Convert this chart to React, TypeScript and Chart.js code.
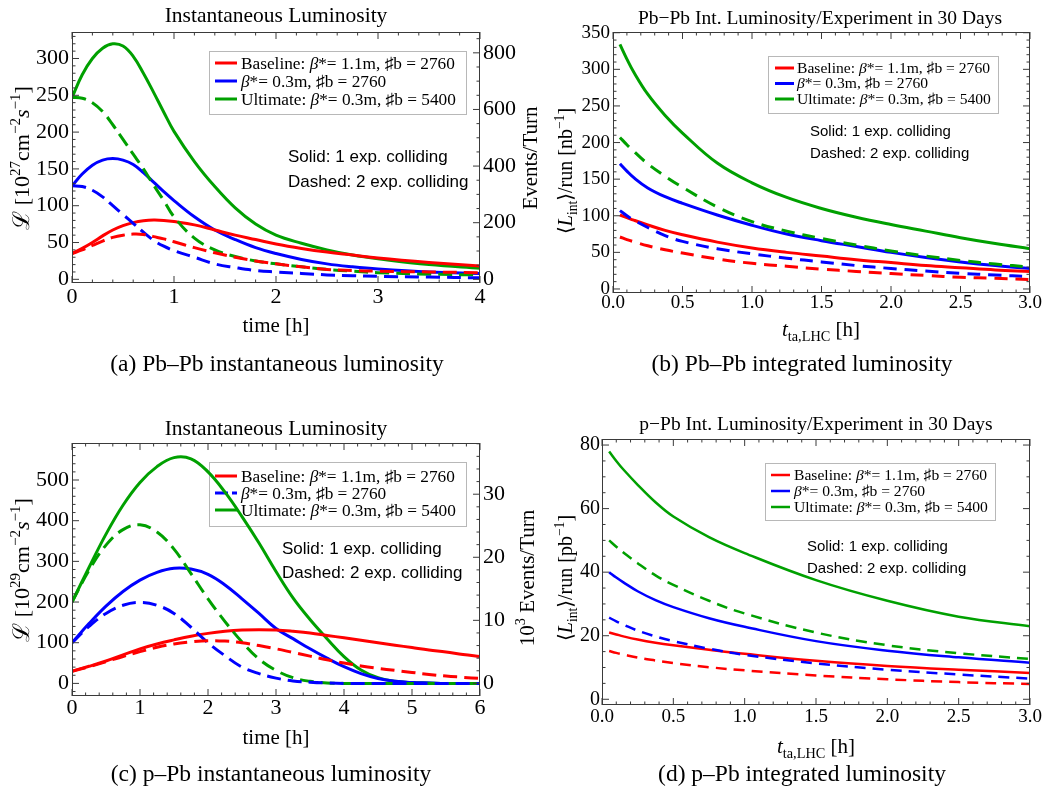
import { useEffect, useRef } from 'react';
import { Chart, registerables } from 'chart.js';

Chart.register(...registerables);

const W = 1048;
const H = 793;
const YW = 40; // fixed width of every vertical axis box
const XH = 30; // fixed height of every horizontal axis box

const SERIF = '"Liberation Serif", "Times New Roman", "DejaVu Serif", serif';
const SANS = '"Liberation Sans", Arial, "DejaVu Sans", sans-serif';
const RED = '#ff0000';
const BLUE = '#0000ff';
const GREEN = '#00a000';
const FRAME = '#3a3a3a';

// ---------- (a) Pb–Pb instantaneous luminosity [10^27 cm^-2 s^-1] vs time [h]
const PBPB_TIME = [0, 0.1, 0.2, 0.3, 0.4, 0.5, 0.6, 0.7, 0.8, 0.9, 1.0, 1.2, 1.4, 1.6, 1.8, 2.0, 2.25, 2.5, 2.75, 3.0, 3.5, 4.0];
const PBPB_BASE_1EXP = [35, 42, 50, 59, 67, 73, 77, 79.5, 80.5, 80, 78.5, 74, 67, 60, 54, 48, 42, 37, 33, 29, 23, 18];
const PBPB_BASE_2EXP = [35, 40, 46, 52, 57, 60, 61.5, 61, 58, 55, 51, 43, 36, 30, 25, 21, 17, 13.5, 12, 11, 10, 9];
const PBPB_B03_1EXP = [127, 143, 155, 162, 164, 162, 156, 145, 132, 119, 107, 85, 67, 54, 43, 35, 27, 21, 17, 14, 10, 8];
const PBPB_B03_2EXP = [127, 126, 121, 112, 100, 88, 76, 64, 53, 45, 39, 30, 21, 16, 12, 10, 8, 6, 5, 4, 3, 2];
const PBPB_ULT_1EXP = [247, 278, 300, 314, 320, 317, 303, 280, 254, 227, 201, 160, 126, 97, 75, 60, 49, 40, 33, 28, 20, 15];
const PBPB_ULT_2EXP = [247, 246, 240, 228, 210, 190, 170, 150, 128, 107, 85, 56, 40, 31, 25, 21, 17, 13.5, 11, 9, 7, 6];
const PBPB_TIME_TICKS = [0, 1, 2, 3, 4];
const PBPB_LUMI_TICKS = [0, 50, 100, 150, 200, 250, 300];
const PBPB_EVENT_TICKS = [0, 200, 400, 600, 800];

// ---------- (b) Pb–Pb integrated luminosity per run [nb^-1] vs turnaround time [h]
const PBPB_TTA = [0.05, 0.1, 0.15, 0.25, 0.375, 0.5, 0.75, 1.0, 1.25, 1.5, 1.75, 2.0, 2.25, 2.5, 2.75, 3.0];
const PBPB_INT_BASE_1EXP = [101, 97.5, 94, 87.5, 80, 74, 64, 56, 50, 45, 40, 36, 32, 29, 26, 24];
const PBPB_INT_BASE_2EXP = [71, 67.5, 64.5, 59, 53.5, 49, 41, 35, 31, 27, 24, 21, 18.5, 16, 14.5, 13];
const PBPB_INT_B03_1EXP = [171, 161, 152, 138, 126, 117, 101, 87, 75, 66, 58, 50, 43, 37, 32, 28];
const PBPB_INT_B03_2EXP = [107, 100, 94, 84, 73, 65, 55, 48, 42, 37, 32, 28, 24.5, 21.5, 19, 17];
const PBPB_INT_ULT_1EXP = [334, 314, 296, 266, 237, 213, 172, 145, 125, 110, 98, 88, 79, 70, 62, 55];
const PBPB_INT_ULT_2EXP = [207, 197, 188, 171, 154, 139, 112, 92, 79, 69, 60, 52, 45, 39, 34, 30];
const TTA_TICKS = [0, 0.5, 1, 1.5, 2, 2.5, 3];
const PBPB_INT_TICKS = [0, 50, 100, 150, 200, 250, 300, 350];

// ---------- (c) p–Pb instantaneous luminosity [10^29 cm^-2 s^-1] vs time [h]
const PPB_TIME = [0, 0.25, 0.5, 0.75, 1, 1.25, 1.5, 1.75, 2, 2.25, 2.5, 2.75, 3, 3.25, 3.5, 3.75, 4, 4.25, 4.5, 4.75, 5, 5.25, 5.5, 5.75, 6];
const PPB_BASE_1EXP = [30, 42, 55, 70, 85, 97, 107, 116, 123, 128, 131, 132, 131, 128, 124, 118, 112, 106, 100, 94, 88, 82, 77, 71, 66];
const PPB_BASE_2EXP = [30, 41, 53, 66, 78, 89, 97, 102, 105, 104, 100, 93, 85, 76, 67, 58, 50, 43, 37, 32, 27, 22, 18, 15, 12];
const PPB_B03_1EXP = [100, 147, 190, 226, 254, 273, 283, 281, 268, 242, 208, 172, 135, 110, 85, 62, 41, 24, 12, 5, 2, 1, 0, 0, 0];
const PPB_B03_2EXP = [100, 140, 172, 192, 199, 192, 172, 138, 100, 68, 40, 24, 13, 6, 3, 1, 0, 0, 0, 0, 0, 0, 0, 0, 0];
const PPB_ULT_1EXP = [200, 285, 367, 438, 494, 533, 555, 552, 520, 470, 410, 345, 275, 210, 157, 110, 66, 33, 14, 5, 2, 1, 0, 0, 0];
const PPB_ULT_2EXP = [200, 278, 340, 378, 390, 372, 330, 270, 208, 152, 102, 60, 32, 14, 5, 1, 0, 0, 0, 0, 0, 0, 0, 0, 0];
const PPB_TIME_TICKS = [0, 1, 2, 3, 4, 5, 6];
const PPB_LUMI_TICKS = [0, 100, 200, 300, 400, 500];
const PPB_EVENT_TICKS = [0, 10, 20, 30];

// ---------- (d) p–Pb integrated luminosity per run [pb^-1] vs turnaround time [h]
const PPB_TTA = [0.05, 0.1, 0.15, 0.25, 0.375, 0.5, 0.75, 1.0, 1.5, 2.0, 2.5, 3.0];
const PPB_INT_BASE_1EXP = [21, 20.4, 19.8, 18.8, 17.8, 17, 15.6, 14.3, 12.1, 10.5, 9.3, 8.3];
const PPB_INT_BASE_2EXP = [15.2, 14.6, 14.1, 13.1, 12.2, 11.4, 10.1, 9.1, 7.5, 6.3, 5.4, 4.8];
const PPB_INT_B03_1EXP = [40, 38.3, 36.8, 34, 31.2, 29, 25.5, 22.8, 18.3, 15.3, 13.2, 11.5];
const PPB_INT_B03_2EXP = [25.7, 24.5, 23.5, 21.6, 19.8, 18.3, 15.9, 14, 11.3, 9.3, 7.8, 6.5];
const PPB_INT_ULT_1EXP = [78, 75, 72.3, 67.5, 62, 57.5, 51, 46, 37.5, 31, 26, 23];
const PPB_INT_ULT_2EXP = [50, 48, 46.2, 42.8, 39, 36, 31, 27, 21, 17, 14.5, 12.7];
const PPB_INT_TICKS = [0, 20, 40, 60, 80];

// ---------- legend entries (shared by all panels)
const SCENARIO_PREFIX = ['Baseline: ', '', 'Ultimate: '];
const SCENARIO_BETA = ['1.1m', '0.3m', '0.3m'];
const SCENARIO_BUNCHES = [2760, 2760, 5400];
const SCENARIO_COLORS = [RED, BLUE, GREEN];
const NOTE_LINES = ['Solid: 1 exp. colliding', 'Dashed: 2 exp. colliding'];

type Seg = { t: string; it?: boolean; sup?: boolean; sub?: boolean; scale?: number };

const segFont = (s: Seg, size: number, fam: string) =>
  `${s.it ? 'italic ' : ''}${(s.sup || s.sub ? size * 0.68 : size * (s.scale ?? 1)).toFixed(1)}px ${fam}`;

function drawRich(
  ctx: CanvasRenderingContext2D,
  segs: Seg[],
  x: number,
  yMid: number,
  size: number,
  fam: string,
  align: 'left' | 'center'
) {
  ctx.save();
  ctx.textBaseline = 'alphabetic';
  ctx.textAlign = 'left';
  ctx.fillStyle = '#000';
  let total = 0;
  const widths = segs.map((s) => {
    ctx.font = segFont(s, size, fam);
    const w = ctx.measureText(s.t).width;
    total += w;
    return w;
  });
  let cx = align === 'center' ? x - total / 2 : x;
  const base = yMid + size * 0.32;
  segs.forEach((s, i) => {
    ctx.font = segFont(s, size, fam);
    const dy = s.sup ? -size * 0.4 : s.sub ? size * 0.24 : 0;
    ctx.fillText(s.t, cx, base + dy);
    cx += widths[i];
  });
  ctx.restore();
}

function drawRotated(ctx: CanvasRenderingContext2D, segs: Seg[], x: number, y: number, size: number, fam: string) {
  ctx.save();
  ctx.translate(x, y);
  ctx.rotate(-Math.PI / 2);
  drawRich(ctx, segs, 0, 0, size, fam, 'center');
  ctx.restore();
}

const legendSegs = (i: number): Seg[] => [
  { t: SCENARIO_PREFIX[i] },
  { t: 'β', it: true },
  { t: `*= ${SCENARIO_BETA[i]}, ♯b = ${SCENARIO_BUNCHES[i]}` },
];

interface AxisSpec {
  min: number;
  max: number;
  ticks: number[];
  minor: number;
  size: number;
  pad: number;
  digits?: number;
}

interface TextItem {
  segs: Seg[];
  x: number;
  y: number;
  size: number;
  fam: string;
  rotate?: boolean;
  align?: 'left' | 'center';
}

interface Panel {
  id: string;
  area: { left: number; top: number; right: number; bottom: number };
  x: AxisSpec;
  y: AxisSpec;
  y2?: AxisSpec & { factor: number };
  xs: number[];
  series: number[][]; // [base1, b03_1, ult1, base2, b03_2, ult2]
  lineWidth: number;
  dash: number[];
  legend: {
    box: [number, number, number, number];
    rows: number[];
    x0: number;
    x1: number;
    tx: number;
    size: number;
    lw: number;
    dashedRow?: number;
  };
  notes: { x: number; y: number[]; size: number };
  texts: TextItem[];
}

const PANELS: Panel[] = [
  {
    id: 'a',
    area: { left: 72, top: 32, right: 480, bottom: 283 },
    x: { min: 0, max: 4, ticks: PBPB_TIME_TICKS, minor: 0.2, size: 22, pad: 3 },
    y: { min: -5, max: 336, ticks: PBPB_LUMI_TICKS, minor: 10, size: 22, pad: 3 },
    y2: { min: -5 * 2.6, max: 336 * 2.6, factor: 2.6, ticks: PBPB_EVENT_TICKS, minor: 50, size: 22, pad: 3 },
    xs: PBPB_TIME,
    series: [PBPB_BASE_1EXP, PBPB_B03_1EXP, PBPB_ULT_1EXP, PBPB_BASE_2EXP, PBPB_B03_2EXP, PBPB_ULT_2EXP],
    lineWidth: 3,
    dash: [14, 7],
    legend: { box: [209, 51, 257, 63], rows: [63, 81, 99], x0: 215, x1: 237, tx: 241, size: 17.3, lw: 3 },
    notes: { x: 288, y: [157, 182], size: 17 },
    texts: [
      { segs: [{ t: 'Instantaneous Luminosity' }], x: 276, y: 15, size: 21.5, fam: SERIF },
      { segs: [{ t: 'time [h]' }], x: 276, y: 325, size: 21, fam: SERIF },
      {
        segs: [{ t: 'ℒ', scale: 1.05 }, { t: ' [10' }, { t: '27', sup: true }, { t: 'cm' }, { t: '−2', sup: true }, { t: 's', it: true }, { t: '−1', sup: true }, { t: ']' }],
        x: 22, y: 158, size: 22, fam: SERIF, rotate: true,
      },
      { segs: [{ t: 'Events/Turn' }], x: 530, y: 158, size: 21, fam: SERIF, rotate: true },
      { segs: [{ t: '(a) Pb–Pb instantaneous luminosity' }], x: 277, y: 363, size: 23.5, fam: SERIF },
    ],
  },
  {
    id: 'b',
    area: { left: 613, top: 32, right: 1030, bottom: 293 },
    x: { min: 0, max: 3, ticks: TTA_TICKS, minor: 0.1, size: 19, pad: 0.5, digits: 1 },
    y: { min: -5.5, max: 351, ticks: PBPB_INT_TICKS, minor: 10, size: 19, pad: 3 },
    xs: PBPB_TTA,
    series: [PBPB_INT_BASE_1EXP, PBPB_INT_B03_1EXP, PBPB_INT_ULT_1EXP, PBPB_INT_BASE_2EXP, PBPB_INT_B03_2EXP, PBPB_INT_ULT_2EXP],
    lineWidth: 3,
    dash: [13, 8],
    legend: { box: [768, 56, 230, 57], rows: [68, 83.5, 99], x0: 775, x1: 794, tx: 797, size: 15.6, lw: 3 },
    notes: { x: 810, y: [131, 153], size: 15 },
    texts: [
      { segs: [{ t: 'Pb−Pb Int. Luminosity/Experiment in 30 Days' }], x: 820, y: 18, size: 19.5, fam: SERIF },
      { segs: [{ t: 't', it: true }, { t: 'ta,LHC', sub: true }, { t: ' [h]' }], x: 821, y: 329, size: 21, fam: SERIF },
      {
        segs: [{ t: '⟨' }, { t: 'L', it: true }, { t: 'int', sub: true }, { t: '⟩/run [nb' }, { t: '−1', sup: true }, { t: ']' }],
        x: 566, y: 171, size: 20, fam: SERIF, rotate: true,
      },
      { segs: [{ t: '(b) Pb–Pb integrated luminosity' }], x: 802, y: 363, size: 23.5, fam: SERIF },
    ],
  },
  {
    id: 'c',
    area: { left: 72, top: 443, right: 480, bottom: 696 },
    x: { min: 0, max: 6, ticks: PPB_TIME_TICKS, minor: 0.2, size: 22, pad: 1 },
    y: { min: -31, max: 591, ticks: PPB_LUMI_TICKS, minor: 20, size: 22, pad: 3 },
    y2: { min: -31 * 0.0645, max: 591 * 0.0645, factor: 0.0645, ticks: PPB_EVENT_TICKS, minor: 2, size: 22, pad: 3 },
    xs: PPB_TIME,
    series: [PPB_BASE_1EXP, PPB_B03_1EXP, PPB_ULT_1EXP, PPB_BASE_2EXP, PPB_B03_2EXP, PPB_ULT_2EXP],
    lineWidth: 3,
    dash: [14, 7],
    legend: { box: [209, 462, 257, 64], rows: [476, 493, 510], x0: 215, x1: 237, tx: 241, size: 17.3, lw: 3, dashedRow: 1 },
    notes: { x: 282, y: [549, 573], size: 17 },
    texts: [
      { segs: [{ t: 'Instantaneous Luminosity' }], x: 276, y: 428, size: 21.5, fam: SERIF },
      { segs: [{ t: 'time [h]' }], x: 276, y: 737, size: 21, fam: SERIF },
      {
        segs: [{ t: 'ℒ', scale: 1.05 }, { t: ' [10' }, { t: '29', sup: true }, { t: 'cm' }, { t: '−2', sup: true }, { t: 's', it: true }, { t: '−1', sup: true }, { t: ']' }],
        x: 22, y: 570, size: 22, fam: SERIF, rotate: true,
      },
      { segs: [{ t: '10' }, { t: '3', sup: true }, { t: ' Events/Turn' }], x: 527, y: 578, size: 21, fam: SERIF, rotate: true },
      { segs: [{ t: '(c) p–Pb instantaneous luminosity' }], x: 271, y: 773, size: 23.5, fam: SERIF },
    ],
  },
  {
    id: 'd',
    area: { left: 602, top: 439, right: 1030, bottom: 705 },
    x: { min: 0, max: 3, ticks: TTA_TICKS, minor: 0.1, size: 19, pad: 2.5, digits: 1 },
    y: { min: -1.8, max: 81.9, ticks: PPB_INT_TICKS, minor: 5, size: 20, pad: 2 },
    xs: PPB_TTA,
    series: [PPB_INT_BASE_1EXP, PPB_INT_B03_1EXP, PPB_INT_ULT_1EXP, PPB_INT_BASE_2EXP, PPB_INT_B03_2EXP, PPB_INT_ULT_2EXP],
    lineWidth: 2.5,
    dash: [11, 7],
    legend: { box: [765, 463, 230, 57], rows: [475, 491, 507], x0: 771, x1: 790, tx: 794, size: 15.6, lw: 2.5 },
    notes: { x: 807, y: [546, 568], size: 15 },
    texts: [
      { segs: [{ t: 'p−Pb Int. Luminosity/Experiment in 30 Days' }], x: 816, y: 424, size: 19.5, fam: SERIF },
      { segs: [{ t: 't', it: true }, { t: 'ta,LHC', sub: true }, { t: ' [h]' }], x: 816, y: 746, size: 21, fam: SERIF },
      {
        segs: [{ t: '⟨' }, { t: 'L', it: true }, { t: 'int', sub: true }, { t: '⟩/run [pb' }, { t: '−1', sup: true }, { t: ']' }],
        x: 566, y: 578, size: 20, fam: SERIF, rotate: true,
      },
      { segs: [{ t: '(d) p–Pb integrated luminosity' }], x: 802, y: 773, size: 23.5, fam: SERIF },
    ],
  },
];

// minor/major frame ticks pointing into the plot, on all four sides
function frameTicks(scale: any, spec: AxisSpec, draw: (px: number, len: number) => void) {
  const k0 = Math.ceil(spec.min / spec.minor - 1e-9);
  const k1 = Math.floor(spec.max / spec.minor + 1e-9);
  for (let k = k0; k <= k1; k++) {
    const v = k * spec.minor;
    const major = spec.ticks.some((t) => Math.abs(t - v) < spec.minor * 1e-3);
    draw(scale.getPixelForValue(v), major ? 7 : 3.5);
  }
}

function makePlugin(p: Panel) {
  return {
    id: 'decor-' + p.id,
    beforeDatasetsDraw(chart: any) {
      const ctx: CanvasRenderingContext2D = chart.ctx;
      const lg = p.legend;
      ctx.save();
      const [bx, by, bw, bh] = lg.box;
      ctx.fillStyle = '#fff';
      ctx.fillRect(bx, by, bw, bh);
      ctx.strokeStyle = '#b8b8b8';
      ctx.lineWidth = 1;
      ctx.strokeRect(bx + 0.5, by + 0.5, bw, bh);
      lg.rows.forEach((ry, i) => {
        ctx.strokeStyle = SCENARIO_COLORS[i];
        ctx.lineWidth = lg.lw;
        ctx.setLineDash(lg.dashedRow === i ? [13, 4] : []);
        ctx.beginPath();
        ctx.moveTo(lg.x0, ry);
        ctx.lineTo(lg.x1, ry);
        ctx.stroke();
        ctx.setLineDash([]);
        drawRich(ctx, legendSegs(i), lg.tx, ry, lg.size, SERIF, 'left');
      });
      ctx.restore();
    },
    afterDraw(chart: any) {
      const ctx: CanvasRenderingContext2D = chart.ctx;
      const a = chart.chartArea;
      const { x, y, y2 } = chart.scales;
      ctx.save();
      ctx.strokeStyle = FRAME;
      ctx.lineWidth = 1;
      ctx.strokeRect(a.left + 0.5, a.top + 0.5, a.right - a.left - 1, a.bottom - a.top - 1);
      ctx.beginPath();
      frameTicks(x, p.x, (px, len) => {
        ctx.moveTo(px, a.bottom);
        ctx.lineTo(px, a.bottom - len);
        ctx.moveTo(px, a.top);
        ctx.lineTo(px, a.top + len);
      });
      frameTicks(y, p.y, (py, len) => {
        ctx.moveTo(a.left, py);
        ctx.lineTo(a.left + len, py);
        if (!p.y2) {
          ctx.moveTo(a.right, py);
          ctx.lineTo(a.right - len, py);
        }
      });
      if (p.y2) {
        frameTicks(y2, p.y2, (py, len) => {
          ctx.moveTo(a.right, py);
          ctx.lineTo(a.right - len, py);
        });
      }
      ctx.stroke();
      ctx.restore();

      NOTE_LINES.forEach((line, i) =>
        drawRich(ctx, [{ t: line }], p.notes.x, p.notes.y[i], p.notes.size, SANS, 'left')
      );
      p.texts.forEach((t) => {
        if (t.rotate) drawRotated(ctx, t.segs, t.x, t.y, t.size, t.fam);
        else drawRich(ctx, t.segs, t.x, t.y, t.size, t.fam, t.align ?? 'center');
      });
    },
  };
}

function axisOptions(spec: AxisSpec, position: string, horizontal: boolean) {
  return {
    type: 'linear',
    position,
    min: spec.min,
    max: spec.max,
    grid: { display: false, drawTicks: false },
    border: { display: false },
    ticks: {
      color: '#000',
      font: { family: SERIF, size: spec.size, lineHeight: 1 },
      padding: spec.pad,
      autoSkip: false,
      maxRotation: 0,
      minRotation: 0,
      callback: (v: number) => (spec.digits ? Number(v).toFixed(spec.digits) : String(v)),
    },
    afterBuildTicks: (s: any) => {
      s.ticks = spec.ticks.map((v) => ({ value: v }));
    },
    afterFit: (s: any) => {
      if (horizontal) s.height = XH;
      else s.width = YW;
    },
  };
}

function makeChart(canvas: HTMLCanvasElement, p: Panel) {
  // dashed (two-experiment) curves first so they sit on top of the solid ones
  const datasets = [3, 4, 5, 0, 1, 2].map((si) => ({
    data: p.xs.map((xv, i) => ({ x: xv, y: p.series[si][i] })),
    borderColor: SCENARIO_COLORS[si % 3],
    borderWidth: p.lineWidth,
    borderDash: si >= 3 ? p.dash : [],
    borderCapStyle: 'butt',
    fill: false,
    pointRadius: 0,
    tension: 0.4,
    xAxisID: 'x',
    yAxisID: 'y',
  }));
  const scales: any = {
    x: axisOptions(p.x, 'bottom', true),
    y: axisOptions(p.y, 'left', false),
  };
  if (p.y2) scales.y2 = axisOptions(p.y2, 'right', false);
  return new Chart(canvas, {
    type: 'line',
    data: { datasets } as any,
    options: {
      animation: false,
      responsive: false,
      maintainAspectRatio: false,
      events: [],
      layout: {
        padding: {
          left: p.area.left - YW,
          right: W - p.area.right - (p.y2 ? YW : 0),
          top: p.area.top,
          bottom: H - p.area.bottom - XH,
        },
      },
      plugins: { legend: { display: false }, tooltip: { enabled: false }, title: { display: false } },
      scales,
    } as any,
    plugins: [makePlugin(p)],
  });
}

export default function App() {
  const refs = useRef<(HTMLCanvasElement | null)[]>([]);
  useEffect(() => {
    const charts = PANELS.map((p, i) => makeChart(refs.current[i] as HTMLCanvasElement, p));
    return () => charts.forEach((c) => c.destroy());
  }, []);
  return (
    <div style={{ position: 'absolute', left: 0, top: 0, width: W, height: H, background: '#fff', overflow: 'hidden' }}>
      {PANELS.map((p, i) => (
        <canvas
          key={p.id}
          ref={(el) => {
            refs.current[i] = el;
          }}
          width={W}
          height={H}
          style={{ position: 'absolute', left: 0, top: 0, width: W, height: H }}
        />
      ))}
    </div>
  );
}
